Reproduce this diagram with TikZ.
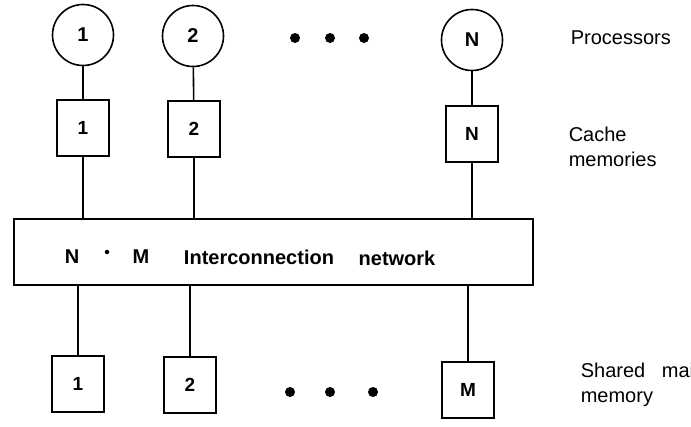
\documentclass[tikz,border=0pt]{standalone}
\usepackage{fontspec}
\setmainfont{Liberation Sans}
\begin{document}
\begin{tikzpicture}[x=1pt,y=-1pt,
  line width=1.6pt,
  proc/.style={draw,circle,minimum size=61pt,inner sep=0pt,font=\fontsize{20}{22}\selectfont\bfseries},
  mem/.style={draw,rectangle,minimum width=52pt,minimum height=56pt,inner sep=0pt,font=\fontsize{19}{22}\selectfont\bfseries},
  bigdot/.style={circle,fill,inner sep=0pt,minimum size=10pt},
  smalldot/.style={circle,fill,inner sep=0pt,minimum size=4.5pt},
  lbl/.style={anchor=west,align=left,inner sep=0pt,font=\fontsize{20}{25}\selectfont},
  nettxt/.style={inner sep=0pt,font=\fontsize{20}{22}\selectfont\bfseries}]
\useasboundingbox (0,0) rectangle (691,426);
% processors
\node[proc] (p1) at (83,35) {1};
\node[proc] (p2) at (193,36) {2};
\node[proc] (pN) at (472,40) {N};
\node[bigdot] (d1) at (295,38) {};
\node[bigdot] (d2) at (330,38) {};
\node[bigdot] (d3) at (364,38) {};
% caches
\node[mem] (c1) at (83,128) {1};
\node[mem] (c2) at (194,129) {2};
\node[mem] (cN) at (472,134) {N};
% network
\node[draw,rectangle,minimum width=519pt,minimum height=66pt,inner sep=0pt] (net) at (273.5,252) {};
\node[nettxt] (tN) at (72,257) {N};
\node[smalldot] (tdot) at (107,252) {};
\node[nettxt] (tM) at (141,257) {M};
\node[nettxt] (tI) at (259,257) {Interconnection};
\node[nettxt] (tn) at (397,258) {network};
% memories
\node[mem] (m1) at (78,384) {1};
\node[mem] (m2) at (190,385) {2};
\node[mem] (mM) at (468,390) {M};
\node[bigdot] (e1) at (290,392) {};
\node[bigdot] (e2) at (330,392) {};
\node[bigdot] (e3) at (373,392) {};
% connectors
\draw (p1) -- (c1);
\draw (p2) -- (c2);
\draw (pN) -- (cN);
\draw (c1.south) -- (c1.south |- net.north);
\draw (c2.south) -- (c2.south |- net.north);
\draw (cN.south) -- (cN.south |- net.north);
\draw (m1.north |- net.south) -- (m1.north);
\draw (m2.north |- net.south) -- (m2.north);
\draw (mM.north |- net.south) -- (mM.north);
% labels
\node[lbl] (lp) at (570,38) {Processors};
\node[lbl] (lc) at (568,147) {Cache\\memories};
\node[lbl] (ls) at (580,385) {Shared\ \ \ main\\memory};
\end{tikzpicture}
\end{document}
